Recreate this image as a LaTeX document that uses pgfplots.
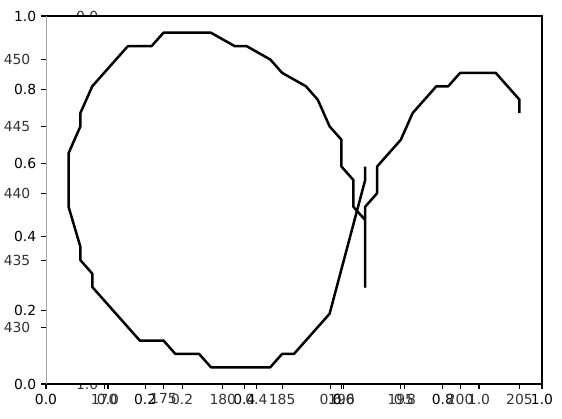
\documentclass[border=0pt]{standalone}
\usepackage{fontspec}
\setmainfont{DejaVu Sans}
\usepackage{pgfplots}
\pgfplotsset{compat=1.18}
\begin{document}
\fontsize{10pt}{12pt}\selectfont
\begin{tikzpicture}
\useasboundingbox (0,0) rectangle (404.64pt,300.96pt);
\pgfplotsset{
  base/.style={
    scale only axis, anchor=south west,
    tick align=outside, tick pos=left,
    major tick length=3.5pt,
    every tick/.style={black, line width=0.8pt},
    /pgf/number format/assume math mode=true,
    tick label style={font=\fontsize{10pt}{12pt}\selectfont},
  }
}
% hidden axis behind
\begin{axis}[base,
  at={(77.76pt,24.48pt)}, width=267.12pt, height=264.96pt,
  xmin=0, xmax=1, ymin=0, ymax=1, y dir=reverse,
  axis line style={draw=none},
  xtick={0,0.2,0.4,0.6,0.8,1}, xticklabels={0.0,0.2,0.4,0.6,0.8,1.0},
  ytick={0,0.2,0.4,0.6,0.8,1}, yticklabels={0.0,0.2,0.4,0.6,0.8,1.0},
  tick label style={text=black!80},
]
\addplot[draw=none] coordinates {(0,0)};
\end{axis}
% main axis
\begin{axis}[base,
  at={(33.12pt,24.48pt)}, width=357.12pt, height=264.96pt,
  xmin=0, xmax=1, ymin=0, ymax=1,
  axis background/.style={fill=white},
  axis line style={draw=none},
  xtick={0,0.2,0.4,0.6,0.8,1}, xticklabels={0.0,0.2,0.4,0.6,0.8,1.0},
  ytick={0,0.2,0.4,0.6,0.8,1}, yticklabels={0.0,0.2,0.4,0.6,0.8,1.0},
  tick label style={text=black},
  after end axis/.code={
    \draw[black, line width=0.8pt] (rel axis cs:0,0) -- (rel axis cs:1,0) -- (rel axis cs:1,1) -- (rel axis cs:0,1);
    \draw[black!35, line width=0.6pt] (rel axis cs:0,0) -- (rel axis cs:0,1);
  },
]
\addplot[draw=none] coordinates {(0,0)};
\end{axis}
% data axis
\begin{axis}[base,
  at={(33.12pt,24.48pt)}, width=357.12pt, height=264.96pt,
  xmin=165.1, xmax=206.9, ymin=425.75, ymax=453.25,
  axis line style={draw=none},
  xtick={170,175,180,185,190,195,200,205},
  ytick={430,435,440,445,450},
  tick label style={text=black!80},
  yticklabel style={xshift=-4.3pt},
]
\addplot[black, line width=1.8pt, line join=round] coordinates {
(205,446) (205,447) (203,449) (200,449) (199,448) (198,448) (196,446) (195,444)
(193,442) (193,440) (192,439) (192,433) (192,438) (191,439) (191,441) (190,442)
(190,444) (189,445) (188,447) (187,448) (185,449) (184,450) (182,451) (181,451)
(179,452) (175,452) (174,451) (172,451) (169,448) (168,446) (168,445) (167,443)
(167,439) (168,436) (168,435) (169,434) (169,433) (173,429) (175,429) (176,428)
(178,428) (179,427) (184,427) (185,428) (186,428) (189,431) (192,441) (192,442)
};
\end{axis}
\end{tikzpicture}
\end{document}
